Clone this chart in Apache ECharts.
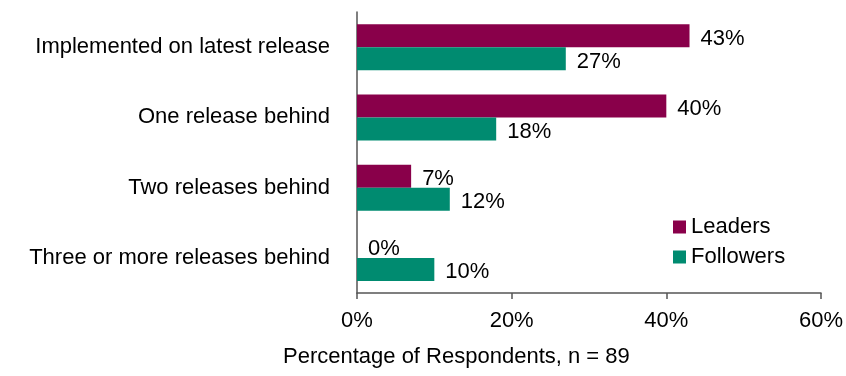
<!DOCTYPE html>
<html><head><meta charset="utf-8">
<script src="https://cdn.jsdelivr.net/npm/echarts@6/dist/echarts.min.js"></script>
<style>html,body{margin:0;padding:0;background:#fff}#c{width:846px;height:376px}</style>
</head><body><div id="c"></div>
<script>
const categories = ["Implemented on latest release","One release behind","Two releases behind","Three or more releases behind"];
const leaders = [43, 40, 7, 0];
const followers = [27, 18, 12, 10];
const xTicks = [0, 20, 40, 60];
const axisName = "Percentage of Respondents, n = 89";

const font = "Liberation Sans, Arial, sans-serif";
const fs = 22;
const chart = echarts.init(document.getElementById('c'));
chart.setOption({
  animation:false,
  textStyle:{fontFamily:font},
  title:{text:axisName,left:278,top:341,textStyle:{fontFamily:font,fontSize:fs,fontWeight:'normal',color:'#000'}},
  legend:{orient:'vertical',left:668,top:211,itemWidth:13,itemHeight:13,itemGap:8,icon:'rect',
    textStyle:{fontFamily:font,fontSize:fs,color:'#000'},data:['Leaders','Followers']},
  grid:{left:357,right:22,top:12,bottom:83,containLabel:false},
  xAxis:{type:'value',min:xTicks[0],max:xTicks[xTicks.length-1],interval:20,
    axisLine:{show:true,lineStyle:{color:'#555',width:1.5}},
    axisTick:{show:true,length:6,lineStyle:{color:'#555',width:1.5}},
    splitLine:{show:false},
    axisLabel:{formatter:'{value}%',fontSize:fs,color:'#000',margin:17,fontFamily:font}},
  yAxis:{type:'category',inverse:true,data:categories,
    axisLine:{show:true,lineStyle:{color:'#555',width:1.5}},
    axisTick:{show:false},
    axisLabel:{fontSize:fs,color:'#000',margin:27,fontFamily:font}},
  series:[
    {name:'Leaders',type:'bar',data:leaders,barWidth:23,barGap:'0%',barCategoryGap:'67%',
     itemStyle:{color:'#89004A'},
     label:{show:true,position:'right',distance:11,formatter:'{c}%',fontSize:fs,color:'#000',fontFamily:font,offset:[0,3]}},
    {name:'Followers',type:'bar',data:followers,barWidth:23,barGap:'0%',
     itemStyle:{color:'#008B70'},
     label:{show:true,position:'right',distance:11,formatter:'{c}%',fontSize:fs,color:'#000',fontFamily:font,offset:[0,3]}}
  ]
});
</script></body></html>
